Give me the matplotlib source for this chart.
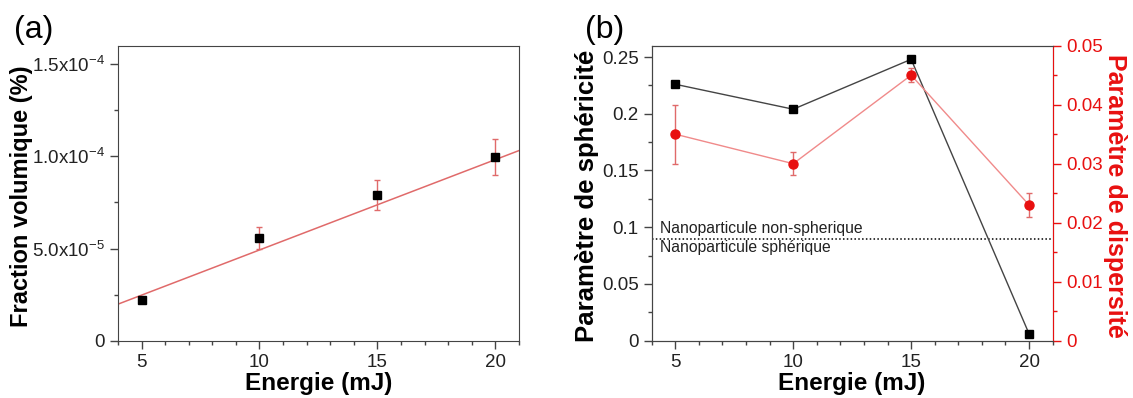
import matplotlib.pyplot as plt
import numpy as np
from matplotlib.ticker import FixedLocator, MultipleLocator

plt.rcParams['font.family'] = ['Liberation Sans', 'DejaVu Sans']
plt.rcParams['mathtext.fontset'] = 'custom'
plt.rcParams['mathtext.rm'] = 'Liberation Sans'
plt.rcParams['mathtext.it'] = 'Liberation Sans:italic'
plt.rcParams['mathtext.bf'] = 'Liberation Sans:bold'

# panel (a)
energie = [5, 10, 15, 20]
fraction = [2.21e-5, 5.55e-5, 7.9e-5, 9.96e-5]
fraction_err = [0.1e-5, 0.6e-5, 0.81e-5, 1.0e-5]
fit_slope = 4.9e-6
fit_intercept = 0.02e-5
frac_ticks = [0, 5e-5, 1e-4, 1.5e-4]
frac_labels = ['0', r'5.0x10$^{-5}$', r'1.0x10$^{-4}$', r'1.5x10$^{-4}$']

# panel (b)
spher = [0.226, 0.204, 0.248, 0.006]
disp = [0.035, 0.030, 0.045, 0.023]
disp_err = [0.005, 0.002, 0.0012, 0.002]
seuil = 0.09

grey = '#444444'
red = '#e81010'
tick_fs = 13.5

fig = plt.figure(figsize=(11.33, 3.98), dpi=100)
ax1 = fig.add_axes([0.1041, 0.144, 0.3539, 0.7412])
ax2 = fig.add_axes([0.5752, 0.144, 0.3539, 0.7412])
ax3 = ax2.twinx()

# ---- (a)
xfit = np.array([4, 21])
ax1.plot(xfit, fit_slope * xfit + fit_intercept, color='#e06a6a', lw=1.1, zorder=2)
ax1.errorbar(energie, fraction, yerr=fraction_err, fmt='none', ecolor='#e06a6a',
             elinewidth=1, capsize=2.5, capthick=1, zorder=3)
ax1.plot(energie, fraction, 's', color='black', ms=6.3, zorder=4)
ax1.set_xlim(4, 21)
ax1.set_ylim(0, 1.6e-4)
ax1.xaxis.set_major_locator(FixedLocator(energie))
ax1.xaxis.set_minor_locator(MultipleLocator(1))
ax1.yaxis.set_major_locator(FixedLocator(frac_ticks))
ax1.yaxis.set_minor_locator(MultipleLocator(2.5e-5))
ax1.set_yticklabels(frac_labels)
ax1.set_xlabel('Energie (mJ)', fontsize=17.5, fontweight='bold', labelpad=1)
ax1.set_ylabel('Fraction volumique (%)', fontsize=17, fontweight='bold',
               va='center', ha='center', rotation_mode='anchor')
ax1.yaxis.set_label_coords(-0.241, 0.49)
fig.text(0.012, 0.905, '(a)', fontsize=23, va='baseline')

# ---- (b)
ax2.plot(energie, spher, '-', color=grey, lw=1, zorder=3)
ax2.plot(energie, spher, 's', color='black', ms=6.3, zorder=4)
ax2.axhline(seuil, color='black', ls=(0, (1, 1.5)), lw=1.1)
ax2.text(4.34, seuil + 0.002, 'Nanoparticule non-spherique', fontsize=11.3,
         color='#222222', va='bottom')
ax2.text(4.34, seuil - 0.001, 'Nanoparticule sphérique', fontsize=11.3,
         color='#222222', va='top')
ax2.set_xlim(4, 21)
ax2.set_ylim(0, 0.26)
ax2.xaxis.set_major_locator(FixedLocator(energie))
ax2.xaxis.set_minor_locator(MultipleLocator(1))
ax2.yaxis.set_major_locator(FixedLocator([0, 0.05, 0.1, 0.15, 0.2, 0.25]))
ax2.yaxis.set_minor_locator(MultipleLocator(0.025))
ax2.set_yticklabels(['0', '0.05', '0.1', '0.15', '0.2', '0.25'])
ax2.set_xlabel('Energie (mJ)', fontsize=17.5, fontweight='bold', labelpad=1)
ax2.set_ylabel('Paramètre de sphéricité', fontsize=18.5, fontweight='bold',
               va='center', ha='center', rotation_mode='anchor')
ax2.yaxis.set_label_coords(-0.161, 0.49)

ax3.plot(energie, disp, '-', color='#f08a8a', lw=1, zorder=3)
ax3.errorbar(energie, disp, yerr=disp_err, fmt='o', color=red, ms=6.5,
             ecolor='#e06a6a', elinewidth=1, capsize=2.5, capthick=1, zorder=4)
ax3.set_ylim(0, 0.05)
ax3.yaxis.set_major_locator(FixedLocator([0, 0.01, 0.02, 0.03, 0.04, 0.05]))
ax3.yaxis.set_minor_locator(MultipleLocator(0.005))
ax3.set_yticklabels(['0', '0.01', '0.02', '0.03', '0.04', '0.05'])
ax3.set_ylabel('Paramètre de dispersité', fontsize=18, fontweight='bold',
               color=red, rotation=270, va='center', ha='center',
               rotation_mode='anchor')
ax3.yaxis.set_label_coords(1.155, 0.49)
ax3.tick_params(axis='y', which='both', colors=red, labelcolor=red)
ax3.tick_params(axis='y', which='major', length=6, width=1, labelsize=tick_fs)
ax3.tick_params(axis='y', which='minor', length=3, width=1)
ax3.spines['right'].set_color(red)
fig.text(0.516, 0.905, '(b)', fontsize=23, va='baseline')

for ax in (ax1, ax2):
    ax.tick_params(which='both', direction='out', color=grey, labelcolor='#222222',
                   top=False, right=False)
    ax.tick_params(which='major', length=6, width=1, labelsize=tick_fs)
    ax.tick_params(which='minor', length=3, width=1)
    for s in ax.spines.values():
        s.set_color(grey)
ax3.spines['left'].set_color(grey)
ax3.spines['top'].set_color(grey)
ax3.spines['bottom'].set_color(grey)

fig.savefig('out.png', dpi=100)
